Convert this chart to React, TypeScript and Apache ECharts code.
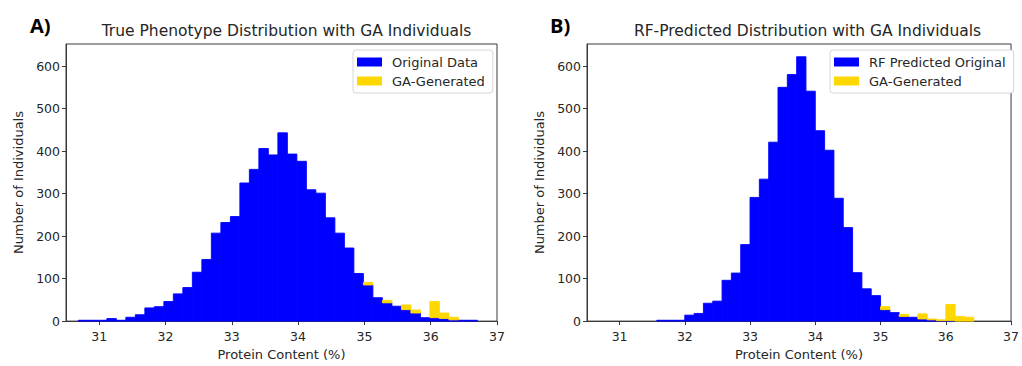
import React, { useEffect, useRef } from "react";
import * as echarts from "echarts";

// ---- Data (histogram bin counts) ----
const BIN_START_A = 30.686;
const BIN_WIDTH_A = 0.1433;
const originalA = [
  2, 2, 2, 6, 2, 9, 15, 31, 34, 46, 64, 79, 115, 145, 207, 232, 246, 325, 357, 406,
  391, 443, 393, 376, 309, 301, 243, 207, 172, 112, 85, 55, 43, 35, 27, 19, 8, 8, 6, 3,
  2, 2,
];
const gaA = [
  0, 0, 0, 0, 0, 0, 0, 0, 0, 0, 0, 0, 0, 0, 0, 0, 0, 0, 0, 0,
  0, 0, 0, 0, 0, 0, 0, 0, 0, 0, 6, 0, 6, 0, 11, 7, 0, 38, 13, 6,
  0, 0,
];

const BIN_START_B = 31.57;
const BIN_WIDTH_B = 0.1429;
const predictedB = [
  2, 2, 2, 14, 18, 42, 47, 96, 113, 180, 291, 334, 421, 550, 580, 622, 541, 448, 402, 289,
  220, 114, 76, 60, 27, 20, 11, 9, 5, 3, 1, 1, 0, 0,
];
const gaB = [
  0, 0, 0, 0, 0, 0, 0, 0, 0, 0, 0, 0, 0, 0, 0, 0, 0, 0, 0, 0,
  0, 0, 0, 0, 7, 0, 5, 0, 12, 2, 2, 38, 11, 9,
];

const xTicks = [31, 32, 33, 34, 35, 36, 37];
const yTicks = [0, 100, 200, 300, 400, 500, 600];

const titleA = "True Phenotype Distribution with GA Individuals";
const titleB = "RF-Predicted Distribution with GA Individuals";
const xLabel = "Protein Content (%)";
const yLabel = "Number of Individuals";

const BLUE = "#0000ff";
const GOLD = "#ffd700";
const FONT = "DejaVu Sans";
const TEXT = "#262626";
const FRAME = "#3a3a3a";

function baseRows(start: number, width: number, counts: number[]) {
  return counts.map((c, i) => [start + i * width, start + (i + 1) * width, 0, c]);
}
function stackRows(start: number, width: number, base: number[], extra: number[]) {
  return extra.map((c, i) => [start + i * width, start + (i + 1) * width, base[i], base[i] + c]);
}

const renderBin = (_params: any, api: any) => {
  const x0 = api.value(0);
  const x1 = api.value(1);
  const y0 = api.value(2);
  const y1 = api.value(3);
  if (!(y1 > y0)) return { type: "group", children: [] };
  const p0 = api.coord([x0, y0]);
  const p1 = api.coord([x1, y1]);
  const color = api.visual("color");
  return {
    type: "rect",
    shape: { x: p0[0], y: p1[1], width: p1[0] - p0[0], height: p0[1] - p1[1] },
    style: { fill: color, stroke: color, lineWidth: 0.9 },
  };
};

function xAxis(gridIndex: number) {
  return {
    type: "value",
    gridIndex,
    min: 30.5,
    max: 37,
    name: xLabel,
    nameLocation: "middle",
    nameGap: 24,
    nameTextStyle: { fontFamily: FONT, fontSize: 13, color: TEXT },
    axisLine: { show: true, lineStyle: { color: FRAME, width: 1 } },
    axisTick: { show: true, length: 4, customValues: xTicks, lineStyle: { color: FRAME } },
    axisLabel: { customValues: xTicks, margin: 9, fontFamily: FONT, fontSize: 12.5, color: TEXT },
    splitLine: { show: false },
  };
}
function yAxis(gridIndex: number) {
  return {
    type: "value",
    gridIndex,
    min: 0,
    max: 652,
    name: yLabel,
    nameLocation: "middle",
    nameGap: 41,
    nameTextStyle: { fontFamily: FONT, fontSize: 13, color: TEXT },
    axisLine: { show: true, lineStyle: { color: FRAME, width: 1 } },
    axisTick: { show: true, length: 4, customValues: yTicks, lineStyle: { color: FRAME } },
    axisLabel: { customValues: yTicks, margin: 6, fontFamily: FONT, fontSize: 12.5, color: TEXT },
    splitLine: { show: false },
  };
}

function legend(left: number, names: string[]) {
  return {
    left,
    top: 50,
    orient: "vertical",
    backgroundColor: "#ffffff",
    borderColor: "#d6d6d6",
    borderWidth: 1,
    borderRadius: 3,
    padding: [5, 8, 5, 4],
    itemGap: 5,
    itemWidth: 25,
    itemHeight: 9,
    icon: "rect",
    data: names.map((n) => ({ name: n, icon: "rect" })),
    textStyle: { fontFamily: FONT, fontSize: 13, color: TEXT, lineHeight: 14, padding: [0, 0, 0, 5] },
    selectedMode: false,
  };
}

export default function App() {
  const ref = useRef<HTMLDivElement>(null);
  useEffect(() => {
    if (!ref.current) return;
    const chart = echarts.init(ref.current, undefined, { renderer: "svg" });
    const titleStyle = { fontFamily: FONT, fontSize: 15.5, fontWeight: "normal", color: TEXT };
    const panelStyle = { fontFamily: "Open Sans", fontSize: 20, fontWeight: "bold", color: "#000" };
    const option = {
      animation: false,
      backgroundColor: "#ffffff",
      title: [
        { text: titleA, left: 281.5, top: 18, textAlign: "center", textStyle: titleStyle },
        { text: titleB, left: 802.5, top: 18, textAlign: "center", textStyle: titleStyle },
        { text: "A)", left: 25, top: 10, textStyle: panelStyle },
        { text: "B)", left: 545, top: 10, textStyle: panelStyle },
      ],
      grid: [
        { left: 66, top: 44, width: 431, height: 281, show: true, borderColor: FRAME, borderWidth: 1, backgroundColor: "transparent" },
        { left: 587, top: 44, width: 431, height: 281, show: true, borderColor: FRAME, borderWidth: 1, backgroundColor: "transparent" },
      ],
      xAxis: [xAxis(0), xAxis(1)],
      yAxis: [yAxis(0), yAxis(1)],
      legend: [legend(353, ["Original Data", "GA-Generated"]), legend(830, ["RF Predicted Original", "GA-Generated "])],
      series: [
        {
          type: "custom",
          name: "Original Data",
          xAxisIndex: 0,
          yAxisIndex: 0,
          renderItem: renderBin,
          itemStyle: { color: BLUE },
          encode: { x: [0, 1], y: [2, 3] },
          data: baseRows(BIN_START_A, BIN_WIDTH_A, originalA),
        },
        {
          type: "custom",
          name: "GA-Generated",
          xAxisIndex: 0,
          yAxisIndex: 0,
          renderItem: renderBin,
          itemStyle: { color: GOLD },
          encode: { x: [0, 1], y: [2, 3] },
          data: stackRows(BIN_START_A, BIN_WIDTH_A, originalA, gaA),
        },
        {
          type: "custom",
          name: "RF Predicted Original",
          xAxisIndex: 1,
          yAxisIndex: 1,
          renderItem: renderBin,
          itemStyle: { color: BLUE },
          encode: { x: [0, 1], y: [2, 3] },
          data: baseRows(BIN_START_B, BIN_WIDTH_B, predictedB),
        },
        {
          type: "custom",
          name: "GA-Generated ",
          xAxisIndex: 1,
          yAxisIndex: 1,
          renderItem: renderBin,
          itemStyle: { color: GOLD },
          encode: { x: [0, 1], y: [2, 3] },
          data: stackRows(BIN_START_B, BIN_WIDTH_B, predictedB, gaB),
        },
      ],
    };
    chart.setOption(option as any);
    return () => chart.dispose();
  }, []);
  return (
    <div
      ref={ref}
      style={{ position: "fixed", left: 0, top: 0, width: 1022, height: 366, background: "#fff" }}
    />
  );
}
